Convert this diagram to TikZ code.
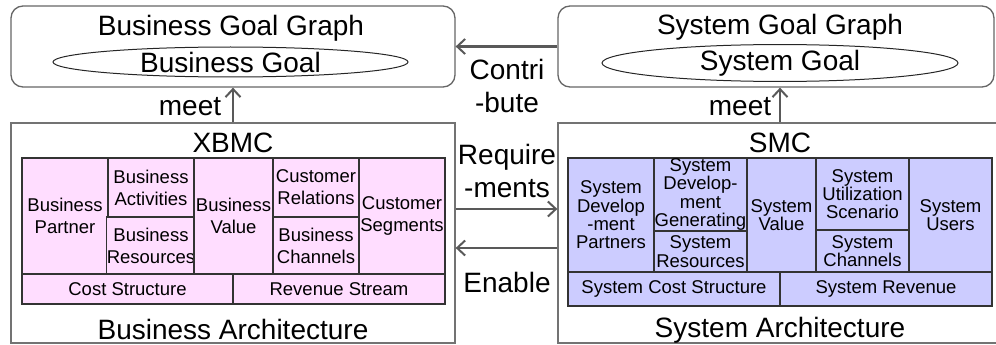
\documentclass[tikz,border=0pt]{standalone}
\usepackage{fontspec}
\setmainfont{Liberation Sans}
\usepackage{xcolor}
\usetikzlibrary{shapes.geometric,arrows.meta}

\definecolor{pinkcell}{RGB}{255,221,255}
\definecolor{bluecell}{RGB}{204,204,255}
\newcommand{\bigfont}{\fontsize{28}{33}\selectfont}
\newcommand{\bcellfont}{\fontsize{18.5}{22}\selectfont}
\newcommand{\scellfont}{\fontsize{18.5}{18.3}\selectfont}

\tikzset{
	goalbox/.style={draw=black!60, line width=1.3pt, rounded corners=12pt, inner sep=0pt},
	goal/.style={ellipse, draw=black!85, line width=1pt, minimum width=355pt, minimum height=30pt, inner sep=0pt, font=\bigfont},
	archbox/.style={draw=black!55, line width=1.3pt, inner sep=0pt},
	label/.style={font=\bigfont, inner sep=0pt, align=center},
	bcell/.style={draw=black!80, line width=1.2pt, fill=pinkcell, inner sep=0pt, align=center, font=\bcellfont},
	scell/.style={draw=black!80, line width=1.2pt, fill=bluecell, inner sep=0pt, align=center, font=\scellfont},
	flow/.style={draw=black!65, line width=2.5pt, -{Straight Barb[length=8pt,width=15pt,line width=2pt]}}
}

\begin{document}
\begin{tikzpicture}[x=1pt,y=-1pt]
		\useasboundingbox (0,0) rectangle (996,345);
		
		% goal graphs
		\node[goalbox, minimum width=444pt, minimum height=81pt] (bgg) at (233,46.5) {};
		\node[label] (bggt) at (231,28) {Business Goal Graph};
		\node[goal] (bgoal) at (230.5,62) {Business Goal};
		\node[goalbox, minimum width=436pt, minimum height=81pt] (sgg) at (776,46.5) {};
		\node[label] (sggt) at (780,27) {System Goal Graph};
		\node[goal, minimum width=356pt] (sgoal) at (780,63) {System Goal};
		
		% architectures
		\node[archbox, minimum width=444pt, minimum height=220pt] (barch) at (233,233) {};
		\node[label] (xbmc) at (233,143) {XBMC};
		\node[label] (bat) at (233,329) {Business Architecture};
		\node[archbox, minimum width=444pt, minimum height=220pt] (sarch) at (780,233) {};
		\node[label] (smc) at (780,143) {SMC};
		\node[label] (sat) at (780,330) {System Architecture};
		
		% XBMC canvas
		\node[bcell, minimum width=86pt, minimum height=116pt] (bpart) at (65,216) {Business\\Partner};
		\node[bcell, minimum width=86pt, minimum height=59pt] (bact) at (151,187.5) {Business\\Activities};
		\node[bcell, minimum width=86pt, minimum height=57pt] (bres) at (151,245.5) {Business\\Resources};
		\node[bcell, minimum width=79pt, minimum height=116pt] (bval) at (233.5,216) {Business\\Value};
		\node[bcell, minimum width=86pt, minimum height=59pt] (crel) at (316,187.5) {Customer\\Relations};
		\node[bcell, minimum width=86pt, minimum height=57pt] (bchan) at (316,245.5) {Business\\Channels};
		\node[bcell, minimum width=86pt, minimum height=116pt] (cseg) at (402,216) {Customer\\Segments};
		\node[bcell, minimum width=211pt, minimum height=30pt] (bcost) at (127.5,289) {Cost Structure};
		\node[bcell, minimum width=212pt, minimum height=30pt] (brev) at (339,289) {Revenue Stream};
		
		% SMC canvas
		\node[scell, minimum width=86pt, minimum height=114pt] (sdp) at (611,215) {System\\Develop\\-ment\\Partners};
		\node[scell, minimum width=93pt, minimum height=73pt] (sdg) at (700.5,194.5) {System\\Develop-\\ment\\Generating};
		\node[scell, minimum width=93pt, minimum height=41pt] (sres) at (700.5,251.5) {System\\Resources};
		\node[scell, minimum width=69pt, minimum height=114pt] (sval) at (781.5,215) {System\\Value};
		\node[scell, minimum width=93pt, minimum height=72pt] (susc) at (862.5,194) {System\\Utilization\\Scenario};
		\node[scell, minimum width=93pt, minimum height=42pt] (schan) at (862.5,251) {System\\Channels};
		\node[scell, minimum width=83pt, minimum height=114pt] (susr) at (950.5,215) {System\\Users};
		\node[scell, minimum width=212pt, minimum height=34pt] (scost) at (674,289) {System Cost Structure};
		\node[scell, minimum width=212pt, minimum height=34pt] (srev) at (886,289) {System Revenue};
		
		% relations
		\draw[flow] (barch.north) -- (bgg.south);
		\node[label] (bmeet) at (190,107) {meet};
		\draw[flow] (sarch.north) -- (sarch.north |- sgg.south);
		\node[label] (smeet) at (740,107) {meet};
		\draw[flow] (sgg.west) -- (bgg.east);
		\node[label] (contri) at (507,85.5) {Contri\\-bute};
		\draw[flow] ([yshift=24pt]barch.east) -- ([yshift=24pt]sarch.west);
		\node[label] (req) at (507,171) {Require\\-ments};
		\draw[flow] ([yshift=-15pt]sarch.west) -- ([yshift=-15pt]barch.east);
		\node[label] (enable) at (507,282) {Enable};
	\end{tikzpicture}
\end{document}
